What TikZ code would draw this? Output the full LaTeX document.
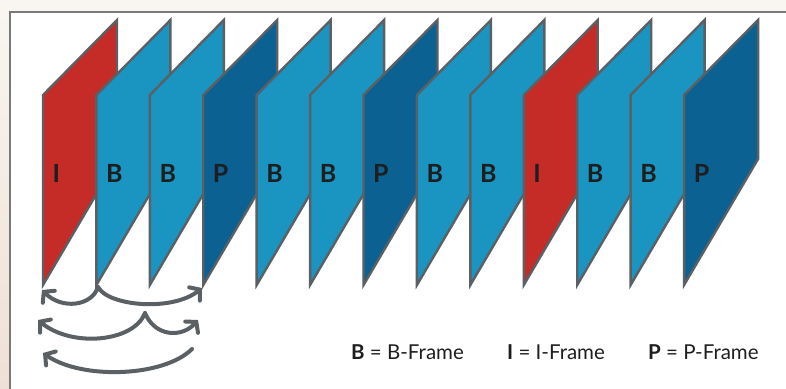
\documentclass[tikz,border=0pt]{standalone}
\usepackage{fontspec}
\setmainfont{Lato}
\usetikzlibrary{arrows.meta}
\definecolor{iframe}{HTML}{C52B27}
\definecolor{bframe}{HTML}{1A94C1}
\definecolor{pframe}{HTML}{0B6192}
\definecolor{edge}{HTML}{5A6064}
\definecolor{ink}{HTML}{1E1E1E}
\definecolor{paperA}{HTML}{F9F6F1}
\definecolor{paperB}{HTML}{EFE0D5}
\tikzset{
  framebox/.style={draw=edge, line width=2.4pt, line join=miter},
  framelabel/.style={anchor=base west, inner sep=0pt, font=\fontsize{25}{25}\selectfont\bfseries, text=ink},
  legend/.style={anchor=base west, inner sep=0pt, font=\fontsize{20.5}{20.5}\selectfont, text=ink},
  refarrow/.style={draw=edge, line width=4pt, line cap=round,
    -{Straight Barb[length=7pt,width=17pt,line cap=round]}}
}
\begin{document}
\begin{tikzpicture}[x=1pt,y=-1pt]
  \useasboundingbox (0,0) rectangle (786,388);
  % page background and the white panel
  \shade[top color=paperA, bottom color=paperB] (0,0) rectangle (786,388);
  \fill[white] (9.5,12) rectangle (790,392);
  \draw[gray!95!black, line width=2pt] (9.5,392) -- (9.5,12) -- (790,12);

  % the sequence of frames, drawn left to right so each covers the previous one
  \foreach \t/\fc [count=\i from 0] in {I/iframe,B/bframe,B/bframe,P/pframe,
      B/bframe,B/bframe,P/pframe,B/bframe,B/bframe,I/iframe,B/bframe,B/bframe,P/pframe} {
    \pgfmathsetmacro{\x}{43+53.42*\i}
    \filldraw[framebox, fill=\fc]
      (\x,95) -- (\x+74,20) -- (\x+74,159) -- (\x,285) -- cycle;
    \node[framelabel] (lab\i) at (\x+9.5,182) {\t};
    \coordinate (f\i) at (\x,288);
  }

  % reference arrows below the frames
  \coordinate (c1) at (98,287);
  \coordinate (c2) at (145,313);
  \coordinate (c3) at (192,349);
  \coordinate (l2) at (38,320);
  \coordinate (r2) at (198,320);
  \coordinate (l3) at (43,353);
  \draw[refarrow] (c1) .. controls (92,306) and (62,310) .. (42,290);
  \draw[refarrow] (c1) .. controls (108,306) and (172,312) .. (202,288);
  \draw[refarrow] (c2) .. controls (134,342) and (72,348) .. (l2);
  \draw[refarrow] (c2) .. controls (155,337) and (182,338) .. (r2);
  \draw[refarrow] (c3) .. controls (164,377) and (82,380) .. (l3);

  % legend
  \node[legend] (legB) at (351,359) {\textbf{B} = B-Frame};
  \node[legend] (legI) at (507,359) {\textbf{I} = I-Frame};
  \node[legend] (legP) at (648,359) {\textbf{P} = P-Frame};
\end{tikzpicture}
\end{document}
